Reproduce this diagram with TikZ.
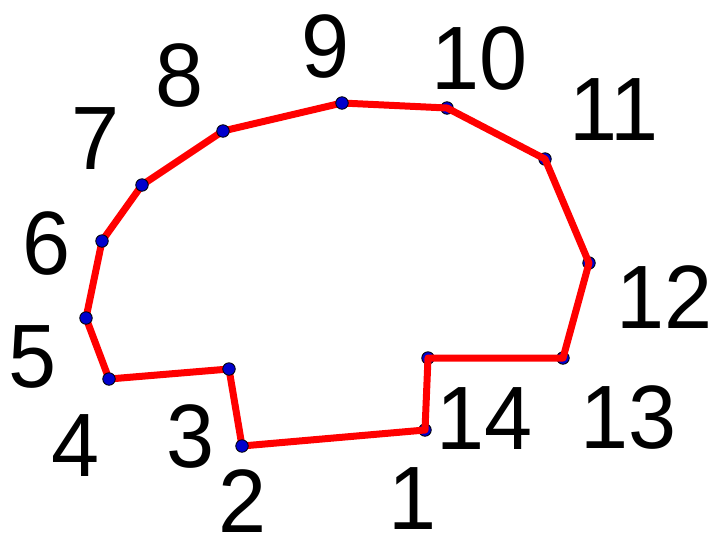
\documentclass[tikz,border=0pt]{standalone}
\usepackage{fontspec}
\setmainfont{Liberation Sans}
\newfontfamily\numfont[FakeStretch=0.96]{Liberation Sans}
\usepackage{tikz}

\begin{document}
\begin{tikzpicture}[x=1pt,y=-1pt]
\tikzstyle{lbl}=[font=\numfont\fontsize{90}{100}\selectfont,inner sep=0pt]
\tikzstyle{pt}=[circle,draw=black,fill=blue!80!black,inner sep=0pt,minimum size=12.5pt,line width=0.8pt]
\useasboundingbox (0,0) rectangle (712,539);
% polygon corners
\foreach \n/\x/\y in {1/425/430,2/242/446,3/229/369,4/109/379,5/86/318,6/102/241,7/142/185,8/223/131,9/342/103,10/447/108,11/545/159,12/589/263,13/563/358,14/428/358} \coordinate (p\n) at (\x,\y);
\foreach \n in {1,10,11,12,13,14} \node[pt] (d\n) at (p\n) {};
\draw[red,line width=7pt,line join=round] (p1) -- (p2) -- (p3) -- (p4) -- (p5) -- (p6) -- (p7) -- (p8) -- (p9) -- (p10) -- (p11) -- (p12) -- (p13) -- (p14) -- cycle;
\foreach \n in {2,...,9} \node[pt] (d\n) at (p\n) {};
% numbers
\foreach \n/\x/\y in {1/413/499,2/243/501,3/191/437,4/76/446,5/33/357,6/47/244,7/96/139,8/180/76,9/326/47,10/480/59,11/614/110,12/665/297,13/629/418,14/485/419} \node[lbl] (l\n) at (\x,\y) {\n};
\end{tikzpicture}
\end{document}
